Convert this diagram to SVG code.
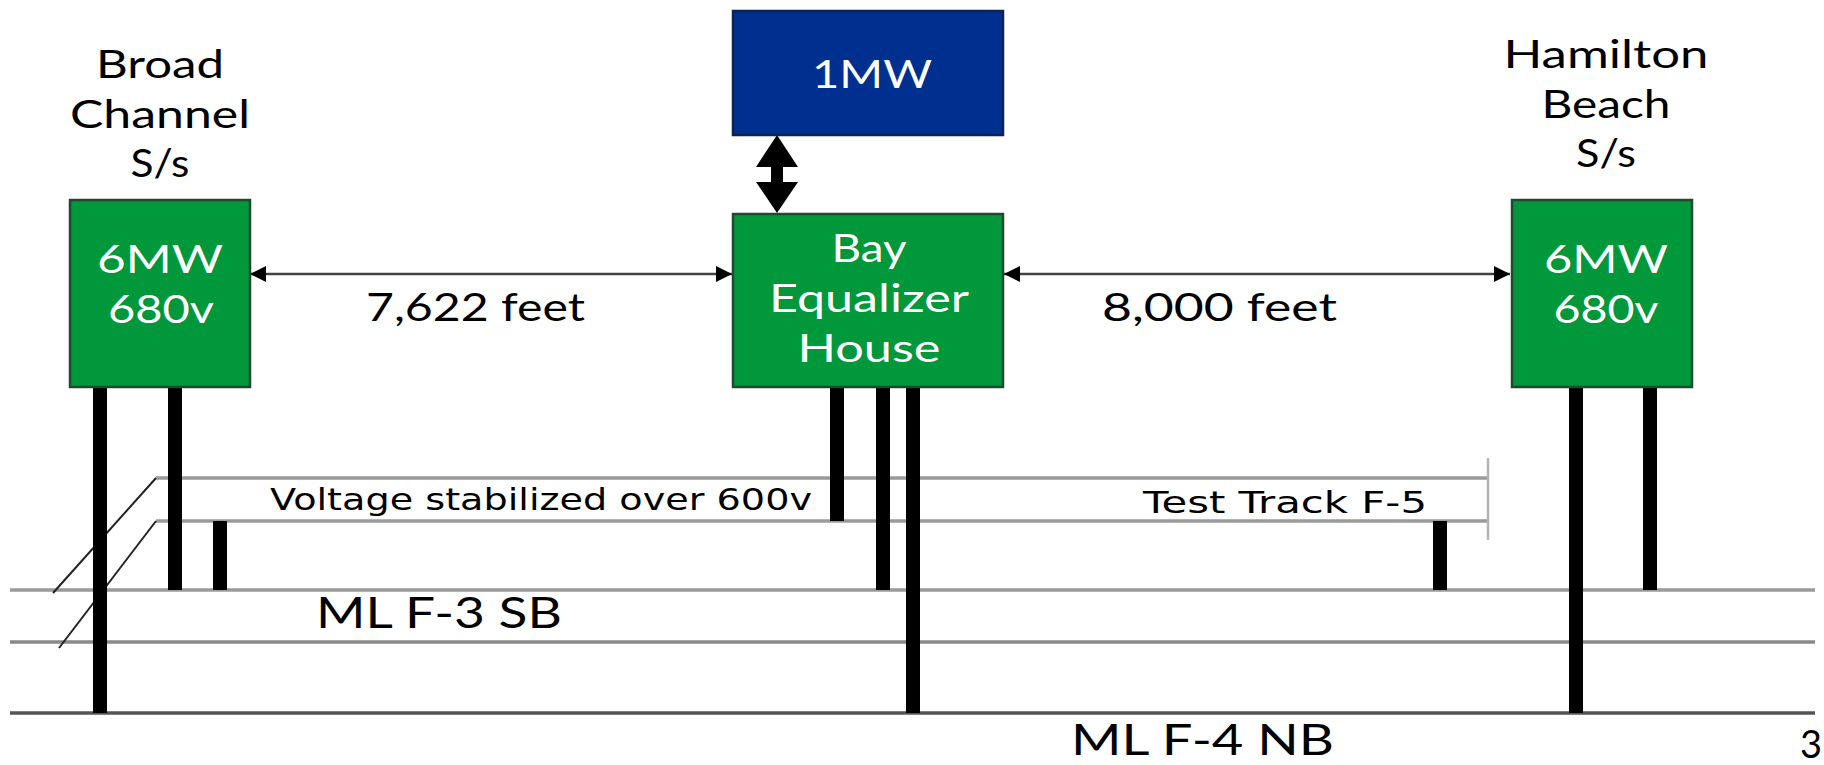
<svg xmlns="http://www.w3.org/2000/svg" width="1824" height="765" viewBox="0 0 1824 765">
  <style>
    .lbl { font-family: Lato, "Open Sans", "Liberation Sans", sans-serif; font-size: 38px; fill: #000; }
    .wlbl { font-family: Lato, "Open Sans", "Liberation Sans", sans-serif; font-size: 38px; fill: #fff; }
    .trk { font-family: "DejaVu Sans", Verdana, sans-serif; font-size: 31px; fill: #000; }
    .ml { font-family: Lato, "Open Sans", "Liberation Sans", sans-serif; font-size: 42px; fill: #000; }
    .sub { fill: #00983a; stroke: #1f4a30; stroke-width: 2.5; }
    .stor { fill: #00308f; stroke: #0b2255; stroke-width: 2.5; }
    .leg { stroke: #000; stroke-width: 14; }
    .rail { stroke: #9a9a9a; stroke-width: 3.5; fill: none; }
    .rail2 { stroke: #888; stroke-width: 3.5; fill: none; }
    .rail3 { stroke: #555; stroke-width: 3.5; fill: none; }
    .dist { stroke: #444; stroke-width: 2.5; fill: none; }
    .cut { stroke: #222; stroke-width: 2; fill: none; }
  </style>
  <defs>
    <marker id="ah" viewBox="0 0 10 10" refX="10" refY="5" markerWidth="6.5" markerHeight="6.5" markerUnits="strokeWidth" orient="auto-start-reverse">
      <path d="M0,0 L10,5 L0,10 Z" fill="#000"/>
    </marker>
  </defs>
  <rect width="1824" height="765" fill="#fff"/>

  <!-- track lines -->
  <g id="tracks">
    <line class="rail" x1="156" y1="478" x2="1488" y2="478"/>
    <line class="rail" x1="156" y1="521" x2="1488" y2="521"/>
    <line x1="1488" y1="458" x2="1488" y2="540" stroke="#b5b5b5" stroke-width="2.5"/>
    <line class="rail" x1="10" y1="590" x2="1815" y2="590"/>
    <line class="rail2" x1="10" y1="642" x2="1815" y2="642"/>
    <line class="rail3" x1="10" y1="713" x2="1815" y2="713"/>
    <line class="cut" x1="156" y1="478" x2="53" y2="593"/>
    <line class="cut" x1="156" y1="521" x2="59" y2="648"/>
  </g>

  <!-- feeder connections and distance arrows -->
  <g id="connectors">
    <line class="leg" x1="100" y1="387" x2="100" y2="713"/>
    <line class="leg" x1="175" y1="387" x2="175" y2="590"/>
    <line class="leg" x1="220" y1="521" x2="220" y2="590"/>
    <line class="leg" x1="837" y1="387" x2="837" y2="521"/>
    <line class="leg" x1="883" y1="387" x2="883" y2="590"/>
    <line class="leg" x1="913" y1="387" x2="913" y2="713"/>
    <line class="leg" x1="1440" y1="521" x2="1440" y2="590"/>
    <line class="leg" x1="1576" y1="387" x2="1576" y2="713"/>
    <line class="leg" x1="1650" y1="387" x2="1650" y2="590"/>
    <line class="dist" x1="250" y1="274" x2="732" y2="274" marker-start="url(#ah)" marker-end="url(#ah)"/>
    <line class="dist" x1="1004" y1="274" x2="1510" y2="274" marker-start="url(#ah)" marker-end="url(#ah)"/>
    <path d="M777,135 L798,167 L783,167 L783,182 L798,182 L777,213 L756,182 L771,182 L771,167 L756,167 Z" fill="#000"/>
  </g>

  <g id="broad-channel">
    <text class="lbl" x="160" y="78" text-anchor="middle" textLength="128" lengthAdjust="spacingAndGlyphs">Broad</text>
    <text class="lbl" x="160" y="128" text-anchor="middle" textLength="180" lengthAdjust="spacingAndGlyphs">Channel</text>
    <text class="lbl" x="160" y="177" text-anchor="middle" textLength="59" lengthAdjust="spacingAndGlyphs">S/s</text>
    <rect class="sub" x="70" y="200" width="180" height="187"/>
    <text class="wlbl" x="160" y="273" text-anchor="middle" textLength="126" lengthAdjust="spacingAndGlyphs">6MW</text>
    <text class="wlbl" x="161" y="323" text-anchor="middle" textLength="106" lengthAdjust="spacingAndGlyphs">680v</text>
  </g>

  <g id="storage">
    <rect class="stor" x="733" y="11" width="270" height="124"/>
    <text class="wlbl" x="872" y="88" text-anchor="middle" textLength="120" lengthAdjust="spacingAndGlyphs">1MW</text>
  </g>

  <g id="bay-equalizer">
    <rect class="sub" x="733" y="214" width="270" height="173"/>
    <text class="wlbl" x="869" y="262" text-anchor="middle" textLength="75" lengthAdjust="spacingAndGlyphs">Bay</text>
    <text class="wlbl" x="869" y="312" text-anchor="middle" textLength="200" lengthAdjust="spacingAndGlyphs">Equalizer</text>
    <text class="wlbl" x="869" y="362" text-anchor="middle" textLength="143" lengthAdjust="spacingAndGlyphs">House</text>
  </g>

  <g id="hamilton-beach">
    <text class="lbl" x="1606" y="68" text-anchor="middle" textLength="205" lengthAdjust="spacingAndGlyphs">Hamilton</text>
    <text class="lbl" x="1606" y="118" text-anchor="middle" textLength="129" lengthAdjust="spacingAndGlyphs">Beach</text>
    <text class="lbl" x="1606" y="167" text-anchor="middle" textLength="60" lengthAdjust="spacingAndGlyphs">S/s</text>
    <rect class="sub" x="1512" y="200" width="180" height="187"/>
    <text class="wlbl" x="1606" y="273" text-anchor="middle" textLength="124" lengthAdjust="spacingAndGlyphs">6MW</text>
    <text class="wlbl" x="1606" y="323" text-anchor="middle" textLength="105" lengthAdjust="spacingAndGlyphs">680v</text>
  </g>

  <g id="labels">
    <text class="lbl" x="366" y="321" textLength="219" lengthAdjust="spacingAndGlyphs">7,622 feet</text>
    <text class="lbl" x="1102" y="321" textLength="235" lengthAdjust="spacingAndGlyphs">8,000 feet</text>
    <text class="trk" x="270" y="510" textLength="542" lengthAdjust="spacingAndGlyphs">Voltage stabilized over 600v</text>
    <text class="trk" x="1143" y="513" textLength="284" lengthAdjust="spacingAndGlyphs">Test Track F-5</text>
    <text class="ml" x="316" y="628" textLength="246" lengthAdjust="spacingAndGlyphs">ML F-3 SB</text>
    <text class="ml" x="1071" y="755" textLength="263" lengthAdjust="spacingAndGlyphs">ML F-4 NB</text>
    <text class="lbl" x="1800" y="758" font-size="34">3</text>
  </g>
</svg>
